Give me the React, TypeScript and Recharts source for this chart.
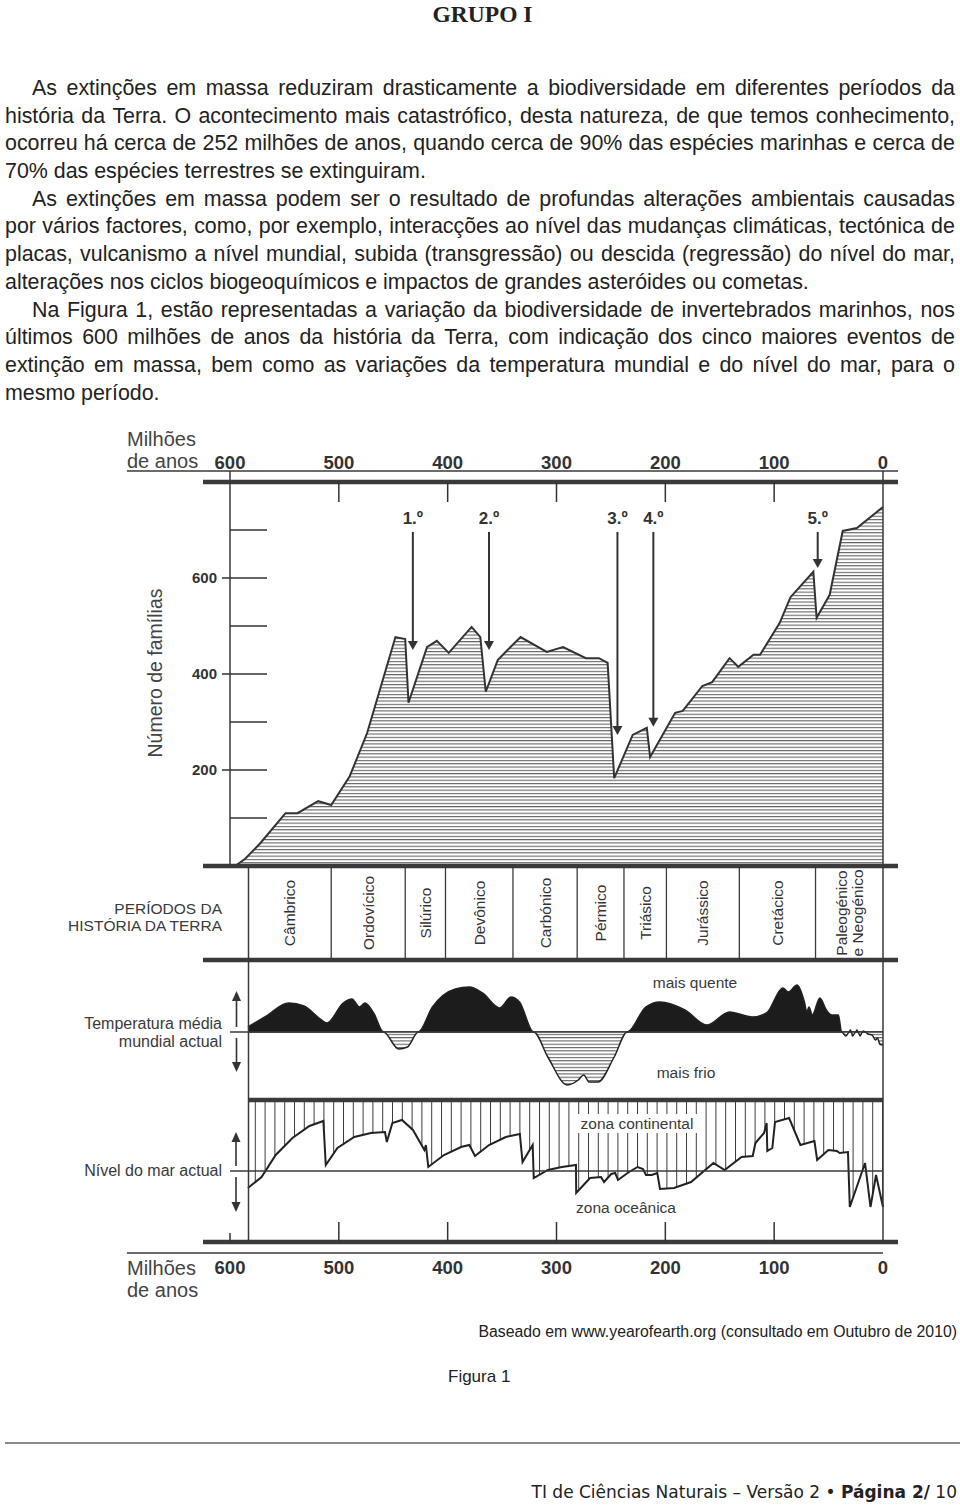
import React from 'react';
import { ComposedChart, Area, XAxis, YAxis, ReferenceLine } from 'recharts';

// ---------- values ----------
const AGE_TICKS = [600, 500, 400, 300, 200, 100, 0];
const FAMILY_TICKS = [200, 400, 600];
const FAMILY_MARKS = [100, 200, 300, 400, 500, 600, 700];

// [age in Ma, number of families of marine invertebrates]
const DIVERSITY: [number, number][] = [
  [600, 0], [594, 2], [586, 15], [572, 48], [549, 110], [538, 110], [519, 135], [507, 127],
  [490, 187], [474, 277], [448, 477], [439, 473], [436, 340], [419, 456], [410, 469], [399, 444],
  [378, 498], [370, 477], [365, 363], [354, 429], [345, 450], [333, 477], [309, 446], [294, 456],
  [273, 433], [261, 433], [253, 423], [247, 183], [230, 273], [217, 288], [214, 227], [191, 319],
  [184, 323], [166, 375], [157, 383], [141, 433], [133, 415], [119, 440], [113, 440], [95, 506],
  [85, 560], [64, 613], [61, 517], [49, 565], [37, 698], [24, 704], [0, 748],
];

const EXTINCTIONS = [
  { label: '1.º', age: 432, tip: 450 },
  { label: '2.º', age: 362, tip: 450 },
  { label: '3.º', age: 244, tip: 273 },
  { label: '4.º', age: 211, tip: 290 },
  { label: '5.º', age: 60, tip: 621 },
];
const ARROW_TOP = 696;

const PERIOD_NAMES = [
  'Câmbrico', 'Ordovícico', 'Silúrico', 'Devônico', 'Carbónico', 'Pérmico',
  'Triásico', 'Jurássico', 'Cretácico', 'Paleogénico\ne Neogénico',
];
const PERIOD_BOUNDS = [583, 507, 439, 402, 340, 281, 238, 199, 132, 62, 0];

// [age, deviation from present mean temperature] (relative units)
const TEMPERATURE: [number, number][] = [
  [583.5, 5], [568, 15], [546, 29], [532, 26], [517, 13], [511, 9], [496, 29], [488, 33],
  [481, 25], [476, 29], [468, 19], [459, 0], [445, -17], [437, -15], [427, 0], [414, 25],
  [393, 43], [380, 45], [368, 39], [352, 24], [342, 35], [334, 30], [321, 0], [308, -25],
  [290, -53], [280, -48], [275, -43], [270, -50], [262, -50], [247, -25], [235, 0], [218, 25],
  [205, 30], [182, 22], [162, 7], [141, 20], [120, 15], [107, 19], [92, 44], [87, 40],
  [79, 47], [72, 29], [70, 20], [68, 25], [65, 17], [58, 34], [52, 22], [47, 17], [41, 17],
  [38, 0], [34, -4], [31, 0], [30, 2], [29, 0], [28, -4], [25, 0], [24, 2], [23, 0], [21, -4],
  [19, 0], [18, 1], [16, 0], [14, -2], [10, -3], [7, -8], [5, -6], [3, -12], [0, -13],
];

// [age, sea level relative to present] (relative units)
const SEA_LEVEL: [number, number][] = [
  [583.5, -17], [571, -6], [558, 16], [542.6, 33], [527, 45], [514.2, 50], [512, 6], [501.3, 23],
  [485.8, 34], [470.5, 38], [457.6, 39], [455.9, 29], [450.8, 48], [442, 51], [431.9, 41],
  [424, 26], [421.4, 21], [420, 26], [417.8, 4], [403.4, 16], [387.7, 24], [380.1, 26],
  [374.9, 15], [362, 26], [346.6, 34], [333.7, 37], [331.2, 9], [321.9, 26], [320.9, -7],
  [307.9, 1], [295, 4], [282.1, 6], [281.9, -22], [269.2, -7], [259.1, -6], [256.3, -11],
  [249.7, -3], [246.1, -2], [243.5, -9], [233.4, -1], [225.5, 4], [220.5, 2], [217.8, -4],
  [212.5, -4], [207.4, -2], [204.9, -18], [192, -17], [176.4, -11], [155.8, 8], [145.5, 1],
  [130, 14], [119.7, 15], [117.2, 28], [109.3, 38], [106.9, 48], [106.3, 20], [101.7, 23],
  [99.2, 49], [86.3, 53], [75.9, 26], [63, 30], [60.5, 11], [50.2, 21], [42.4, 20],
  [39.8, 18], [32.2, 19], [30.5, -36], [16.5, 8], [11.5, -36], [6.4, -4], [0, -36],
];
const SEA_PANEL_TOP = 71;

const PARAGRAPHS = [
  [
    'As extinções em massa reduziram drasticamente a biodiversidade em diferentes períodos da',
    'história da Terra. O acontecimento mais catastrófico, desta natureza, de que temos conhecimento,',
    'ocorreu há cerca de 252 milhões de anos, quando cerca de 90% das espécies marinhas e cerca de',
    '70% das espécies terrestres se extinguiram.',
  ],
  [
    'As extinções em massa podem ser o resultado de profundas alterações ambientais causadas',
    'por vários factores, como, por exemplo, interacções ao nível das mudanças climáticas, tectónica de',
    'placas, vulcanismo a nível mundial, subida (transgressão) ou descida (regressão) do nível do mar,',
    'alterações nos ciclos biogeoquímicos e impactos de grandes asteróides ou cometas.',
  ],
  [
    'Na Figura 1, estão representadas a variação da biodiversidade de invertebrados marinhos, nos',
    'últimos 600 milhões de anos da história da Terra, com indicação dos cinco maiores eventos de',
    'extinção em massa, bem como as variações da temperatura mundial e do nível do mar, para o',
    'mesmo período.',
  ],
];

// ---------- layout ----------
const SANS = '"Liberation Sans", Arial, Helvetica, sans-serif';
const INK = '#333';
const CHART_TOP = 420;

// frame rows, on the temperature axis (0 = present mean temperature)
const ROW = { rule: 561, top: 550, bioBase: 166, periodBase: 72, seaTop: -68, bottom: -210, bottomRule: -221 };
// horizontal extent of the frame rules, expressed on the age axis
const AGE_LABEL_EDGE = 694.7;
const AGE_FRAME_LEFT = 624.8;
const AGE_FRAME_RIGHT = -13.8;

const toRows = (pairs: [number, number][]) => pairs.map(([age, v]) => ({ age, v }));
const diversityRows = toRows(DIVERSITY);
const warmRows = TEMPERATURE.map(([age, v]) => ({ age, v: Math.max(v, 0) }));
const coldRows = TEMPERATURE.map(([age, v]) => ({ age, v: Math.min(v, 0) }));
const seaRows = toRows(SEA_LEVEL);

function TopTick(props: any) {
  const { x, y, payload } = props;
  const v = payload.value;
  return (
    <g>
      <text x={x} y={y} textAnchor="middle" fontSize={18.5} fontWeight="bold" fill={INK} fontFamily={SANS}>
        {v}
      </text>
      {v !== 600 && v !== 0 && (
        <line x1={x} x2={x} y1={y + 13} y2={y + 33} stroke={INK} strokeWidth={1.5} />
      )}
    </g>
  );
}

function BottomTick(props: any) {
  const { x, y, payload } = props;
  const v = payload.value;
  return (
    <g>
      <text x={x} y={y} dy="0.71em" textAnchor="middle" fontSize={18.5} fontWeight="bold" fill={INK} fontFamily={SANS}>
        {v}
      </text>
      {v !== 0 && (
        <line x1={x} x2={x} y1={y - 19} y2={y - (v === 600 ? 28 : 39)} stroke={INK} strokeWidth={1.5} />
      )}
    </g>
  );
}

function ExtinctionArrow(props: any) {
  const { x1, y1, x2, y2, text } = props;
  return (
    <g>
      <text x={x1} y={y1 - 8} textAnchor="middle" fontSize={17} fontWeight="bold" fill={INK} fontFamily={SANS}>
        {text}
      </text>
      <line x1={x1} y1={y1} x2={x2} y2={y2 - 8} stroke={INK} strokeWidth={2} />
      <polygon points={`${x2 - 5},${y2 - 9} ${x2 + 5},${y2 - 9} ${x2},${y2}`} fill={INK} />
    </g>
  );
}

function PeriodLabel(props: any) {
  const { x1, y1, y2, text } = props;
  const cy = (y1 + y2) / 2;
  const lines = String(text).split('\n');
  return (
    <g>
      {lines.map((ln: string, i: number) => {
        const lx = x1 + (i - (lines.length - 1) / 2) * 16.5;
        return (
          <text
            key={i}
            x={lx}
            y={cy}
            transform={`rotate(-90 ${lx} ${cy})`}
            textAnchor="middle"
            dominantBaseline="central"
            fontSize={15.5}
            fill={INK}
            fontFamily={SANS}
          >
            {ln}
          </text>
        );
      })}
    </g>
  );
}

function frameLine(key: string, pts: [number, number][], width: number) {
  return (
    <ReferenceLine
      key={key}
      xAxisId="x"
      yAxisId="temp"
      segment={pts.map(([x, y]) => ({ x, y }))}
      stroke="#3a3a3a"
      strokeWidth={width}
      ifOverflow="visible"
    />
  );
}

function Figure() {
  return (
    <ComposedChart
      width={960}
      height={880}
      margin={{ top: 32, right: 77, bottom: 18, left: 190 }}
    >
      <defs>
        <pattern id="hatchH" patternUnits="userSpaceOnUse" width="10" height="3.3">
          <rect width="10" height="3.3" fill="#fff" />
          <line x1="0" y1="0.6" x2="10" y2="0.6" stroke="#404040" strokeWidth="0.9" />
        </pattern>
        <pattern id="hatchV" patternUnits="userSpaceOnUse" width="9.8" height="10">
          <rect width="9.8" height="10" fill="#fff" />
          <line x1="0.5" y1="0" x2="0.5" y2="10" stroke="#3a3a3a" strokeWidth="1" />
        </pattern>
      </defs>

      <XAxis
        xAxisId="top"
        orientation="top"
        type="number"
        dataKey="age"
        domain={[0, 600]}
        reversed
        ticks={AGE_TICKS}
        interval={0}
        height={30}
        tickSize={0}
        tickMargin={13}
        axisLine={false}
        tickLine={false}
        tick={(p: any) => <TopTick {...p} />}
      />
      <XAxis
        xAxisId="x"
        orientation="bottom"
        type="number"
        dataKey="age"
        domain={[0, 600]}
        reversed
        ticks={AGE_TICKS}
        interval={0}
        height={40}
        tickSize={0}
        tickMargin={19}
        axisLine={false}
        tickLine={false}
        tick={(p: any) => <BottomTick {...p} />}
      />
      <YAxis
        yAxisId="bio"
        type="number"
        width={40}
        domain={[-783.33, 800]}
        ticks={FAMILY_TICKS}
        interval={0}
        tickSize={8}
        tickMargin={5}
        axisLine={false}
        tickLine={{ stroke: INK, strokeWidth: 1.5 }}
        tick={{ fontSize: 15, fontWeight: 'bold', fill: INK, fontFamily: SANS }}
      />
      <YAxis yAxisId="temp" type="number" hide domain={[-210, 550]} />
      <YAxis yAxisId="sea" type="number" hide domain={[-71, 689]} />

      {/* biodiversity (on the top age axis, same scale as the bottom one) */}
      <Area
        xAxisId="top"
        yAxisId="bio"
        data={diversityRows}
        dataKey="v"
        type="linear"
        baseValue={0}
        stroke={INK}
        strokeWidth={2}
        fill="url(#hatchH)"
        fillOpacity={1}
        isAnimationActive={false}
        dot={false}
        activeDot={false}
      />

      {/* temperature */}
      <Area
        xAxisId="x"
        yAxisId="temp"
        data={warmRows}
        dataKey="v"
        type="monotone"
        baseValue={0}
        stroke="#222"
        strokeWidth={1.5}
        fill="#1c1c1c"
        fillOpacity={1}
        isAnimationActive={false}
        dot={false}
        activeDot={false}
      />
      <Area
        xAxisId="x"
        yAxisId="temp"
        data={coldRows}
        dataKey="v"
        type="monotone"
        baseValue={0}
        stroke="#222"
        strokeWidth={1.5}
        fill="url(#hatchH)"
        fillOpacity={1}
        isAnimationActive={false}
        dot={false}
        activeDot={false}
      />

      {/* sea level: continental zone hatched above the curve */}
      <Area
        xAxisId="x"
        yAxisId="sea"
        data={seaRows}
        dataKey="v"
        type="linear"
        baseValue={SEA_PANEL_TOP}
        stroke="#222"
        strokeWidth={2}
        fill="url(#hatchV)"
        fillOpacity={1}
        isAnimationActive={false}
        dot={false}
        activeDot={false}
      />

      {/* inner tick marks of the families axis */}
      {FAMILY_MARKS.map((f) => (
        <ReferenceLine
          key={`fm${f}`}
          xAxisId="x"
          yAxisId="bio"
          segment={[{ x: 600, y: f }, { x: 566, y: f }]}
          stroke={INK}
          strokeWidth={1.5}
          ifOverflow="visible"
        />
      ))}

      {/* baselines for present temperature and sea level */}
      <ReferenceLine xAxisId="x" yAxisId="temp" segment={[{ x: 600, y: 0 }, { x: 0, y: 0 }]} stroke="#3a3a3a" strokeWidth={1.6} ifOverflow="visible" />
      <ReferenceLine xAxisId="x" yAxisId="sea" segment={[{ x: 600, y: 0 }, { x: 0, y: 0 }]} stroke="#3a3a3a" strokeWidth={1.6} ifOverflow="visible" />

      {/* frame */}
      {frameLine('rule', [[AGE_LABEL_EDGE, ROW.rule], [AGE_FRAME_RIGHT, ROW.rule]], 1.3)}
      {frameLine('top', [[AGE_FRAME_LEFT, ROW.top], [AGE_FRAME_RIGHT, ROW.top]], 4.5)}
      {frameLine('yaxis', [[600, ROW.rule], [600, ROW.bioBase]], 1.5)}
      {frameLine('right', [[0, ROW.rule], [0, ROW.bottom]], 1.5)}
      {frameLine('left', [[PERIOD_BOUNDS[0], ROW.bioBase], [PERIOD_BOUNDS[0], ROW.bottom]], 1.5)}
      {frameLine('bioBase', [[AGE_FRAME_LEFT, ROW.bioBase], [AGE_FRAME_RIGHT, ROW.bioBase]], 4.5)}
      {frameLine('periodBase', [[AGE_FRAME_LEFT, ROW.periodBase], [AGE_FRAME_RIGHT, ROW.periodBase]], 4.5)}
      {frameLine('seaTop', [[PERIOD_BOUNDS[0], ROW.seaTop], [0, ROW.seaTop]], 4.5)}
      {frameLine('bottom', [[AGE_FRAME_LEFT, ROW.bottom], [AGE_FRAME_RIGHT, ROW.bottom]], 4.5)}
      {frameLine('bottomRule', [[AGE_LABEL_EDGE, ROW.bottomRule], [0, ROW.bottomRule]], 1.3)}

      {/* geological periods */}
      {PERIOD_BOUNDS.slice(1, -1).map((b) =>
        frameLine(`pb${b}`, [[b, ROW.bioBase], [b, ROW.periodBase]], 1.3)
      )}
      {PERIOD_NAMES.map((name, i) => (
        <ReferenceLine
          key={`pn${i}`}
          xAxisId="x"
          yAxisId="temp"
          segment={[
            { x: (PERIOD_BOUNDS[i] + PERIOD_BOUNDS[i + 1]) / 2, y: ROW.bioBase },
            { x: (PERIOD_BOUNDS[i] + PERIOD_BOUNDS[i + 1]) / 2, y: ROW.periodBase },
          ]}
          ifOverflow="visible"
          shape={(p: any) => <PeriodLabel {...p} text={name} />}
        />
      ))}

      {/* mass extinctions */}
      {EXTINCTIONS.map((e) => (
        <ReferenceLine
          key={e.label}
          xAxisId="x"
          yAxisId="bio"
          segment={[{ x: e.age, y: ARROW_TOP }, { x: e.age, y: e.tip }]}
          ifOverflow="visible"
          shape={(p: any) => <ExtinctionArrow {...p} text={e.label} />}
        />
      ))}
    </ComposedChart>
  );
}

// y is the vertical centre of the whole text block
function Note({ x, y, align = 'left', size = 16, lh = 18, bg, color = '#3a3a3a', children }: any) {
  const lines = typeof children === 'string' ? children.split('\n').length : 1;
  const style: React.CSSProperties = {
    position: 'absolute',
    top: y - (lines * lh) / 2,
    fontSize: size,
    lineHeight: `${lh}px`,
    whiteSpace: 'pre',
    color,
    background: bg,
  };
  if (align === 'right') {
    style.right = 960 - x;
    style.textAlign = 'right';
  } else if (align === 'center') {
    style.left = x;
    style.transform = 'translateX(-50%)';
    style.textAlign = 'center';
  } else {
    style.left = x;
  }
  return <div style={style}>{children}</div>;
}

function Paragraphs() {
  return (
    <div style={{ position: 'absolute', top: 75, left: 5, width: 950, fontSize: 21.4, lineHeight: '27.7px', color: '#222' }}>
      {PARAGRAPHS.map((lines, pi) =>
        lines.map((line, li) => {
          const last = li === lines.length - 1;
          const words = line.split(' ');
          return (
            <div
              key={`${pi}-${li}`}
              style={{
                display: 'flex',
                justifyContent: last ? 'flex-start' : 'space-between',
                paddingLeft: li === 0 ? 27 : 0,
                height: 27.7,
                whiteSpace: 'pre',
              }}
            >
              {last
                ? line
                : words.map((w, wi) => <span key={wi}>{wi < words.length - 1 ? `${w} ` : w}</span>)}
            </div>
          );
        })
      )}
    </div>
  );
}

function SideArrows() {
  const head = (x: number, y: number, dir: number) =>
    `${x - 4.5},${y + dir * 10} ${x + 4.5},${y + dir * 10} ${x},${y}`;
  const arrows = [
    { x: 236.5, tip: 991, end: 1027, dir: 1 },
    { x: 236.5, tip: 1072, end: 1038, dir: -1 },
    { x: 236, tip: 1132, end: 1166, dir: 1 },
    { x: 236, tip: 1212, end: 1177, dir: -1 },
  ];
  return (
    <svg width={960} height={1505} style={{ position: 'absolute', left: 0, top: 0, pointerEvents: 'none' }}>
      {arrows.map((a, i) => (
        <g key={i}>
          <line x1={a.x} x2={a.x} y1={a.end} y2={a.tip + a.dir * 8} stroke="#333" strokeWidth={1.6} />
          <polygon points={head(a.x, a.tip, a.dir)} fill="#333" />
        </g>
      ))}
    </svg>
  );
}

export default function App() {
  return (
    <div style={{ position: 'relative', width: 960, height: 1505, overflow: 'hidden', fontFamily: SANS, background: '#fff' }}>
      <style>{'body{margin:0;background:#fff}'}</style>

      <div
        style={{
          position: 'absolute',
          top: 1,
          left: 0,
          width: 965,
          textAlign: 'center',
          fontFamily: '"Liberation Serif", "Times New Roman", serif',
          fontWeight: 'bold',
          fontSize: 23.5,
          lineHeight: '27px',
          color: '#222',
        }}
      >
        GRUPO I
      </div>

      <Paragraphs />

      <div style={{ position: 'absolute', left: 0, top: CHART_TOP }}>
        <Figure />
      </div>

      <SideArrows />

      <Note x={127} y={450} size={20} lh={22} color="#444">{'Milhões\nde anos'}</Note>
      <Note x={127} y={1279} size={20} lh={22} color="#444">{'Milhões\nde anos'}</Note>
      <div
        style={{
          position: 'absolute',
          left: 155,
          top: 673,
          transform: 'translate(-50%, -50%) rotate(-90deg)',
          fontSize: 19.5,
          lineHeight: '22px',
          whiteSpace: 'nowrap',
          color: '#444',
        }}
      >
        Número de famílias
      </div>
      <Note x={222} y={916.5} align="right" size={15.5} lh={17}>{'PERÍODOS DA\nHISTÓRIA DA TERRA'}</Note>
      <Note x={222} y={1033} align="right" size={16} lh={18}>{'Temperatura média\nmundial actual'}</Note>
      <Note x={222} y={1171} align="right" size={16} lh={18}>Nível do mar actual</Note>
      <Note x={695} y={983} align="center" size={15.5}>mais quente</Note>
      <Note x={686} y={1073} align="center" size={15.5}>mais frio</Note>
      <Note x={637} y={1123} align="center" size={15.5} lh={19} bg="#fff">{' zona continental '}</Note>
      <Note x={626} y={1208} align="center" size={15.5}>zona oceânica</Note>

      <Note x={957} y={1332} align="right" size={15.8} lh={20} color="#222">
        Baseado em www.yearofearth.org (consultado em Outubro de 2010)
      </Note>
      <Note x={448} y={1377} size={17} lh={20} color="#222">Figura 1</Note>
      <div style={{ position: 'absolute', left: 5, top: 1442, width: 955, height: 2, background: '#8a8a8a' }} />
      <div
        style={{
          position: 'absolute',
          right: 3,
          top: 1481,
          fontFamily: '"DejaVu Sans", Verdana, sans-serif',
          fontSize: 17,
          lineHeight: '22px',
          color: '#222',
          whiteSpace: 'pre',
        }}
      >
        TI de Ciências Naturais – Versão 2 • <b>Página 2/</b> 10
      </div>
    </div>
  );
}
